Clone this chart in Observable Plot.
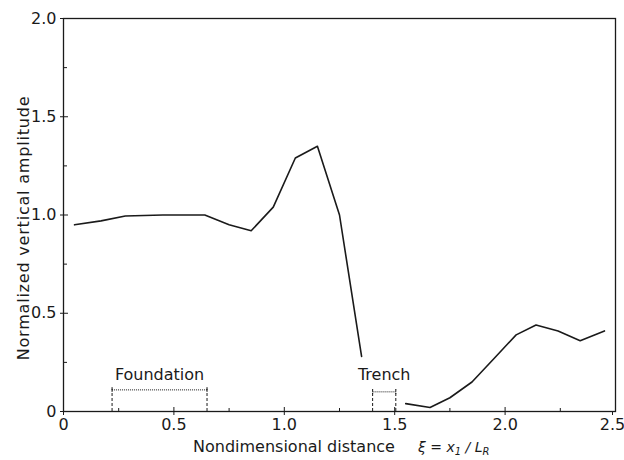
<!DOCTYPE html>
<html>
<head>
<meta charset="utf-8">
<script src="https://cdn.jsdelivr.net/npm/d3@7"></script>
<script src="https://cdn.jsdelivr.net/npm/@observablehq/plot@0.6"></script>
<style>
  html, body { margin: 0; padding: 0; background: #fff; }
  svg { font-family: "DejaVu Sans", sans-serif; }
</style>
</head>
<body>
<div id="chart"></div>
<script>
// Curve segment before the trench
const xA = [0.05, 0.17, 0.28, 0.45, 0.64, 0.75, 0.85, 0.95, 1.05, 1.15, 1.25, 1.35];
const yA = [0.95, 0.97, 0.995, 1.0, 1.0, 0.95, 0.92, 1.04, 1.29, 1.35, 1.0, 0.28];
// Curve segment after the trench
const xB = [1.55, 1.66, 1.75, 1.85, 1.95, 2.05, 2.14, 2.24, 2.34, 2.45];
const yB = [0.04, 0.02, 0.07, 0.15, 0.27, 0.39, 0.44, 0.41, 0.36, 0.41];

const xTicks = [0, 0.5, 1.0, 1.5, 2.0];
const xLastTick = [2.5];
const xMinor = [0.25, 0.75, 1.25, 1.75, 2.25];
const yTicks = [0, 0.5, 1.0, 1.5, 2.0];
const yMinor = [0.25, 0.75, 1.25, 1.75];

const regionNames = ["Foundation", "Trench"];
const regionStart = [0.22, 1.40];
const regionEnd = [0.65, 1.505];
const bracketLevel = [0.11, 0.10];
const dashTop = [0.12, 0.11];
const labelLevel = [0.185, 0.185];

const yLabel = "Normalized vertical amplitude";
const xLabel = "Nondimensional distance";

const curve = [
  ...xA.map((x, i) => ({x, y: yA[i], seg: "a"})),
  ...xB.map((x, i) => ({x, y: yB[i], seg: "b"}))
];
const regions = regionNames.map((name, i) => ({
  name, x1: regionStart[i], x2: regionEnd[i], yb: bracketLevel[i], yt: dashTop[i], yl: labelLevel[i],
  xm: (regionStart[i] + regionEnd[i]) / 2
}));
const dashes = regions.flatMap(r => [{x: r.x1, yt: r.yt}, {x: r.x2, yt: r.yt}]);

const fmt = d => d === 0 ? "0" : d.toFixed(1);
const none = () => "";
const ink = "#1a1a1a";

const chart = Plot.plot({
  width: 624,
  height: 460,
  marginLeft: 63,
  marginRight: 9,
  marginTop: 18,
  marginBottom: 49,
  style: {fontFamily: "DejaVu Sans, sans-serif", fontSize: "16px", color: ink, background: "#fff"},
  x: {domain: [0, 2.5]},
  y: {domain: [0, 2]},
  marks: [
    Plot.frame({stroke: ink, strokeWidth: 1.3}),
    Plot.axisX({ticks: xTicks, tickFormat: fmt, tickSize: 4, tickPadding: 3, fontSize: 16, label: null, stroke: ink}),
    Plot.axisX({ticks: xLastTick, tickFormat: fmt, tickSize: 4, tickPadding: 3, fontSize: 16, label: null, stroke: ink, dx: -3}),
    Plot.axisX({ticks: [...xTicks, ...xLastTick], tickFormat: none, tickSize: -4, label: null, stroke: ink}),
    Plot.axisX({ticks: xMinor, tickFormat: none, tickSize: -3, label: null, stroke: ink}),
    Plot.axisY({ticks: yTicks, tickFormat: fmt, tickSize: 3, tickPadding: 4, fontSize: 16, label: null, stroke: ink}),
    Plot.axisY({ticks: yTicks, tickFormat: none, tickSize: -5, label: null, stroke: ink}),
    Plot.axisY({ticks: yMinor, tickFormat: none, tickSize: -4, label: null, stroke: ink}),
    Plot.line(curve, {x: "x", y: "y", z: "seg", stroke: ink, strokeWidth: 1.6}),
    Plot.ruleX(dashes, {x: "x", y1: 0, y2: "yt", stroke: ink, strokeWidth: 1, strokeDasharray: "3,2"}),
    Plot.link(regions, {x1: "x1", x2: "x2", y1: "yb", y2: "yb", stroke: ink, strokeWidth: 1, strokeDasharray: "1,1", markerStart: "tick", markerEnd: "tick"}),
    Plot.text(regions, {x: "xm", y: "yl", text: "name", fontSize: 16, fill: ink})
  ]
});

const svg = d3.select(chart);
svg.append("text")
  .attr("transform", "translate(24,228) rotate(-90)")
  .attr("text-anchor", "middle")
  .attr("dominant-baseline", "middle")
  .attr("font-size", 16)
  .attr("letter-spacing", 0.8)
  .attr("fill", ink)
  .text(yLabel);

const xl = svg.append("text")
  .attr("x", 193)
  .attr("y", 452)
  .attr("text-anchor", "start")
  .attr("font-size", 16)
  .attr("fill", ink);
xl.append("tspan").text(xLabel);
xl.append("tspan").attr("x", 418).attr("font-style", "italic").attr("font-size", 14).text("ξ = x");
xl.append("tspan").attr("font-style", "italic").attr("font-size", 10).attr("dy", 3).text("1");
xl.append("tspan").attr("font-style", "italic").attr("font-size", 14).attr("dy", -3).text(" / L");
xl.append("tspan").attr("font-style", "italic").attr("font-size", 10).attr("dy", 3).text("R");

document.getElementById("chart").appendChild(chart);
</script>
</body>
</html>
